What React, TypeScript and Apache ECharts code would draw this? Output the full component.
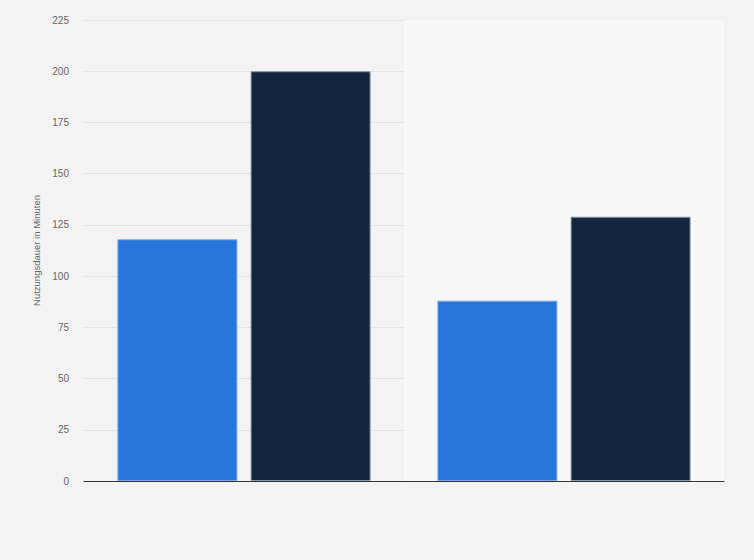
import * as echarts from 'echarts';
import { useEffect, useRef } from 'react';

const categories = ['A', 'B'];
const seriesBlue = [118, 88];
const seriesDark = [200, 129];
const yTicks = [0, 25, 50, 75, 100, 125, 150, 175, 200, 225];

const option = {
  animation: false,
  backgroundColor: '#f3f3f3',
  grid: {
    left: 84,
    right: 30,
    top: 20,
    bottom: 79,
  },
  xAxis: {
    type: 'category',
    data: categories,
    axisTick: { show: false },
    axisLabel: { show: false },
    axisLine: { lineStyle: { color: '#333', width: 1 } },
    splitArea: {
      show: true,
      areaStyle: { color: ['rgba(0,0,0,0)', '#f8f8f8'] },
    },
  },
  yAxis: {
    type: 'value',
    min: yTicks[0],
    max: yTicks[yTicks.length - 1],
    interval: 25,
    name: 'Nutzungsdauer in Minuten',
    nameLocation: 'middle',
    nameGap: 36,
    nameTextStyle: { color: '#666', fontSize: 9.5, fontFamily: 'Arial, Liberation Sans, sans-serif' },
    axisLine: { show: false },
    axisTick: { show: false },
    axisLabel: {
      color: '#666',
      fontSize: 10,
      margin: 15,
      fontFamily: 'Arial, Liberation Sans, sans-serif',
    },
    splitLine: {
      lineStyle: { color: '#d6d6d6', type: [1, 1], width: 1 },
    },
  },
  series: [
    {
      name: 'blue',
      type: 'bar',
      data: seriesBlue,
      barWidth: 120,
      barGap: '11%',
      itemStyle: {
        color: '#2775db',
        borderColor: '#7aa8ea',
        borderWidth: 1,
      },
    },
    {
      name: 'dark',
      type: 'bar',
      data: seriesDark,
      barWidth: 120,
      barGap: '11%',
      itemStyle: {
        color: '#11263c',
        borderColor: '#8a96a3',
        borderWidth: 1,
      },
    },
  ],
};

export default function App() {
  const chartRef = useRef<HTMLDivElement>(null);

  useEffect(() => {
    document.body.style.margin = '0';
    if (!chartRef.current) return;
    const chart = echarts.init(chartRef.current, undefined, { renderer: 'svg' });
    chart.setOption(option);
    return () => {
      chart.dispose();
    };
  }, []);

  return (
    <div
      ref={chartRef}
      style={{ position: 'absolute', left: 0, top: 0, width: 754, height: 560, background: '#f3f3f3' }}
    ></div>
  );
}
